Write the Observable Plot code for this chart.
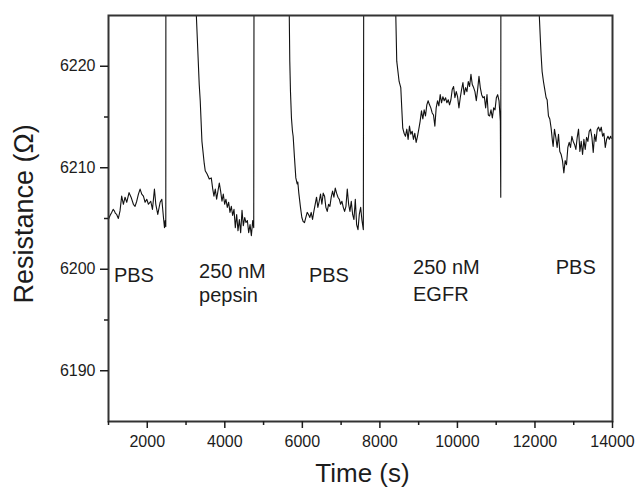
<!DOCTYPE html>
<html>
<head>
<meta charset="utf-8">
<script src="https://cdn.jsdelivr.net/npm/d3@7"></script>
<script src="https://cdn.jsdelivr.net/npm/@observablehq/plot@0.6"></script>
<style>
  html, body { margin: 0; padding: 0; background: #fff; }
</style>
</head>
<body>
<div id="chart"></div>
<script>
// Time (s) / Resistance (Ω) readings per phase; 6250 marks the off-scale jump between phases
const pbs1 = [[996,6204.9],[1040,6205.3],[1082,6205.6],[1120,6205.9],[1151,6205.75],[1180,6205.5],[1211,6205.4],[1254,6205.0],[1297,6205.75],[1340,6207.2],[1384,6206.4],[1427,6207.1],[1470,6206.6],[1530,6207.55],[1582,6207.1],[1642,6206.4],[1685,6206.2],[1728,6206.7],[1772,6207.4],[1815,6207.9],[1858,6207.4],[1901,6207.2],[1944,6206.6],[1987,6206.9],[2030,6206.4],[2090,6206.7],[2134,6205.9],[2185,6207.9],[2220,6206.4],[2271,6205.4],[2332,6206.6],[2375,6206.9],[2418,6205.1],[2444,6204.1],[2461,6204.8],[2478,6204.2],[2482,6250]];
const pepsin = [[3255,6226],[3340,6218.2],[3366,6216.6],[3410,6212.6],[3470,6210.4],[3495,6209.7],[3547,6209.35],[3599,6208.9],[3651,6209.0],[3685,6208.0],[3720,6207.2],[3754,6207.9],[3789,6206.9],[3823,6207.7],[3858,6208.5],[3892,6207.7],[3927,6206.7],[3961,6207.4],[3996,6206.4],[4030,6206.9],[4064,6206.1],[4099,6206.6],[4133,6205.6],[4168,6206.2],[4202,6205.3],[4237,6205.9],[4271,6204.1],[4306,6205.4],[4340,6203.8],[4375,6204.9],[4409,6203.6],[4444,6205.8],[4478,6204.3],[4513,6205.1],[4547,6204.6],[4582,6204.8],[4616,6203.6],[4651,6204.4],[4685,6203.3],[4720,6204.8],[4746,6204.1],[4760,6250]];
const pbs2 = [[5660,6226],[5676,6220.5],[5694,6217.5],[5719,6214.9],[5745,6213.6],[5763,6213.1],[5797,6211.0],[5832,6209.0],[5866,6208.4],[5883,6208.6],[5909,6207.5],[5952,6206.1],[5987,6205.1],[6021,6204.7],[6056,6204.6],[6090,6205.1],[6125,6205.6],[6159,6205.4],[6194,6205.1],[6228,6205.6],[6263,6204.9],[6297,6205.7],[6331,6206.4],[6366,6207.1],[6400,6206.1],[6435,6206.7],[6469,6207.4],[6504,6206.4],[6538,6207.5],[6573,6207.2],[6607,6206.1],[6642,6205.7],[6676,6206.4],[6711,6206.2],[6745,6207.1],[6780,6207.7],[6814,6207.1],[6849,6208.0],[6883,6207.5],[6918,6207.1],[6952,6206.9],[6987,6206.4],[7021,6206.7],[7056,6206.1],[7090,6205.7],[7125,6206.2],[7159,6207.9],[7194,6206.4],[7228,6205.7],[7262,6206.7],[7297,6205.4],[7331,6204.9],[7366,6206.9],[7400,6204.4],[7435,6203.9],[7469,6205.4],[7504,6206.1],[7538,6204.8],[7573,6203.9],[7592,6250]];
const egfr = [[8405,6226],[8435,6220.5],[8496,6218.5],[8539,6217.9],[8564,6215.9],[8590,6213.9],[8625,6213.4],[8659,6213.1],[8694,6213.8],[8728,6212.8],[8763,6214.1],[8797,6213.3],[8832,6213.6],[8866,6212.8],[8901,6213.4],[8935,6212.5],[8970,6213.1],[9004,6213.8],[9039,6214.6],[9073,6215.6],[9108,6214.8],[9142,6215.7],[9176,6215.1],[9211,6216.2],[9245,6216.6],[9280,6216.2],[9314,6215.9],[9349,6215.4],[9383,6215.2],[9418,6214.1],[9452,6215.9],[9487,6216.6],[9521,6216.1],[9556,6217.2],[9590,6216.4],[9625,6217.0],[9659,6216.6],[9694,6216.9],[9728,6216.4],[9763,6216.7],[9797,6216.2],[9832,6216.7],[9866,6217.7],[9901,6218.0],[9935,6216.9],[9970,6217.5],[10004,6217.0],[10039,6215.9],[10073,6216.9],[10107,6217.7],[10142,6218.4],[10176,6217.2],[10211,6217.9],[10245,6217.5],[10280,6218.5],[10314,6218.0],[10349,6219.2],[10383,6218.2],[10418,6217.9],[10452,6217.5],[10487,6216.6],[10521,6217.7],[10556,6219.0],[10590,6217.9],[10625,6217.2],[10659,6216.9],[10694,6217.0],[10728,6215.9],[10763,6217.2],[10797,6215.2],[10832,6215.1],[10866,6215.7],[10901,6214.9],[10935,6215.9],[10970,6215.7],[11004,6216.9],[11038,6217.2],[11073,6216.6],[11107,6214.6],[11118,6207.1],[11124,6250]];
const pbs3 = [[12100,6226],[12141,6222.5],[12159,6221.1],[12184,6219.5],[12219,6218.5],[12245,6217.9],[12288,6216.9],[12314,6216.7],[12348,6215.1],[12383,6214.8],[12417,6213.9],[12452,6212.6],[12469,6212.1],[12503,6213.8],[12538,6213.0],[12572,6212.0],[12607,6213.3],[12641,6211.6],[12676,6211.3],[12710,6210.7],[12745,6209.5],[12779,6210.7],[12814,6210.3],[12848,6212.0],[12883,6212.5],[12917,6212.0],[12952,6213.1],[12986,6212.6],[13021,6212.3],[13055,6211.8],[13090,6213.0],[13124,6213.8],[13159,6211.6],[13193,6212.6],[13228,6211.3],[13262,6212.8],[13296,6211.8],[13331,6213.0],[13365,6212.6],[13400,6213.6],[13434,6213.8],[13469,6213.0],[13503,6211.5],[13538,6213.3],[13572,6212.6],[13607,6213.8],[13641,6214.0],[13676,6213.6],[13710,6214.0],[13745,6213.1],[13779,6213.4],[13814,6212.0],[13848,6212.8],[13883,6213.1],[13917,6212.8],[13952,6213.1],[13969,6212.9]];

// Axis ticks
const xMajorTicks = [2000, 4000, 6000, 8000, 10000, 12000, 14000];
const xMinorTicks = [1000, 3000, 5000, 7000, 9000, 11000, 13000];
const yMajorTicks = [6190, 6200, 6210, 6220];
const yMinorTicks = [6195, 6205, 6215];

// Annotations (one entry per text line): time, resistance at baseline, text
const annoTime = [1140, 3335, 3335, 6170, 8855, 8855, 12535];
const annoRes  = [6198.7, 6199.1, 6196.8, 6198.75, 6199.5, 6196.9, 6199.5];
const annoText = ["PBS", "250 nM", "pepsin", "PBS", "250 nM", "EGFR", "PBS"];

const xTitle = "Time (s)";
const yTitle = "Resistance (Ω)";

const series = [...pbs1, ...pepsin, ...pbs2, ...egfr, ...pbs3].map(([t, r]) => ({t, r}));
const annotations = annoText.map((text, i) => ({t: annoTime[i], r: annoRes[i], text}));

const font = "'Liberation Sans', Arial, Helvetica, sans-serif";
const ink = "#1c1c1c";

const chart = Plot.plot({
  width: 636,
  height: 488,
  marginLeft: 108,
  marginRight: 24,
  marginTop: 15,
  marginBottom: 67,
  style: {fontFamily: font, fontSize: "16px", color: ink, background: "#fff"},
  x: {domain: [1000, 14000], label: null},
  y: {domain: [6185, 6225], label: null},
  marks: [
    Plot.line(series, {x: "t", y: "r", stroke: "#111", strokeWidth: 1.1, clip: true}),
    Plot.frame({stroke: "#333", strokeWidth: 2}),
    Plot.axisX({ticks: xMajorTicks, tickSize: 7, tickPadding: 7, tickFormat: "d", label: null, strokeWidth: 1.5, fontSize: 16}),
    Plot.axisX({ticks: xMinorTicks, tickSize: 4, tickFormat: () => "", label: null, strokeWidth: 1.5}),
    Plot.axisY({ticks: yMajorTicks, tickSize: 8, tickPadding: 5, tickFormat: "d", label: null, strokeWidth: 1.5, fontSize: 16}),
    Plot.axisY({ticks: yMinorTicks, tickSize: 4, tickFormat: () => "", label: null, strokeWidth: 1.5}),
    Plot.text(annotations, {x: "t", y: "r", text: "text", textAnchor: "start", lineAnchor: "bottom", fontSize: 20, fill: ink}),
    Plot.text([xTitle], {frameAnchor: "bottom", dx: 2, dy: 60, lineAnchor: "bottom", fontSize: 26, fill: ink}),
    Plot.text([yTitle], {frameAnchor: "left", rotate: -90, dx: -76, dy: -4.5, lineAnchor: "bottom", textAnchor: "middle", fontSize: 27, fill: ink})
  ]
});

document.getElementById("chart").appendChild(chart);
</script>
</body>
</html>
